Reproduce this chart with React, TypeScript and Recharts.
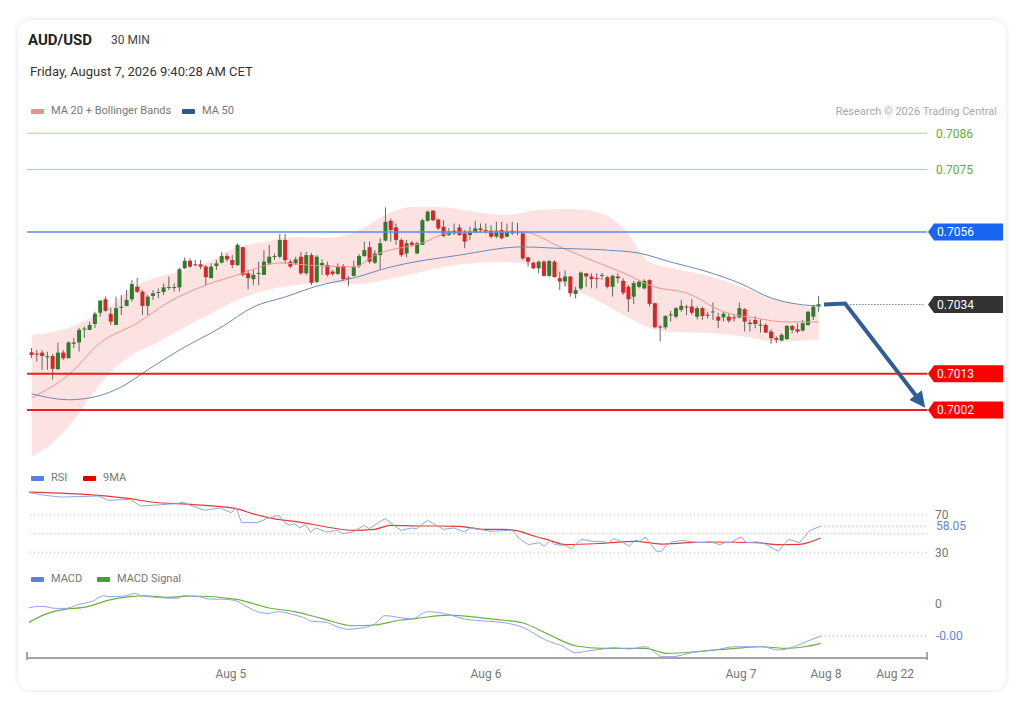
import React from "react";
import {
  ComposedChart,
  Bar,
  Line,
  Area,
  XAxis,
  YAxis,
  ReferenceLine,
} from "recharts";

const FONT = "Roboto, 'Liberation Sans', Arial, sans-serif";

// 30 min candles, oldest first
const openP = [
  0.70195, 0.70191, 0.70194, 0.70182, 0.70184, 0.70144, 0.70194, 0.70177, 0.70221, 0.70225,
  0.70266, 0.70263, 0.70281, 0.70315, 0.70356, 0.70312, 0.70278, 0.70331, 0.70336, 0.70356,
  0.70394, 0.70379, 0.70336, 0.70366, 0.70376, 0.70378, 0.70391, 0.70393, 0.70392, 0.7045,
  0.70473, 0.70462, 0.70462, 0.70455, 0.7042, 0.70457, 0.70467, 0.70487, 0.70475, 0.7046,
  0.70514, 0.70435, 0.70417, 0.70434, 0.7043, 0.70465, 0.70485, 0.70485, 0.70536, 0.7047,
  0.70465, 0.70485, 0.70435, 0.7049, 0.70409, 0.7046, 0.7046, 0.7044, 0.70433, 0.70457,
  0.70421, 0.70427, 0.70457, 0.70487, 0.70514, 0.70467, 0.7049, 0.70534, 0.70594, 0.70574,
  0.70536, 0.70495, 0.70528, 0.70495, 0.70521, 0.70594, 0.70625, 0.70598, 0.70576, 0.70551,
  0.70556, 0.70574, 0.70556, 0.70551, 0.70558, 0.70571, 0.70566, 0.70564, 0.70546, 0.70566,
  0.70546, 0.70564, 0.70561, 0.70556, 0.70483, 0.70467, 0.7045, 0.7047, 0.70427, 0.7047,
  0.7042, 0.7041, 0.70425, 0.70372, 0.70389, 0.70435, 0.70425, 0.7042, 0.7043, 0.70423,
  0.70394, 0.70425, 0.70412, 0.70394, 0.70364, 0.70394, 0.70389, 0.70414, 0.70344, 0.70273,
  0.70271, 0.70308, 0.70303, 0.70324, 0.70334, 0.70334, 0.70303, 0.70329, 0.70308, 0.70318,
  0.70303, 0.70301, 0.70303, 0.70301, 0.70301, 0.70326, 0.70285, 0.70293, 0.70279, 0.70278,
  0.70258, 0.70238, 0.70231, 0.70235, 0.70275, 0.70265, 0.70261, 0.70278, 0.70303, 0.70334,
];
const highP = [
  0.70208, 0.70202, 0.70202, 0.70197, 0.7019, 0.70224, 0.70202, 0.70228, 0.70239, 0.70269,
  0.70273, 0.70288, 0.70318, 0.70354, 0.70364, 0.7033, 0.70364, 0.70369, 0.70384, 0.70414,
  0.70421, 0.70384, 0.70369, 0.70384, 0.70389, 0.70404, 0.70425, 0.70404, 0.70451, 0.70483,
  0.7048, 0.70475, 0.70475, 0.7046, 0.70465, 0.70475, 0.705, 0.70495, 0.7049, 0.70526,
  0.70515, 0.70445, 0.70445, 0.7047, 0.70505, 0.70521, 0.70495, 0.70554, 0.70554, 0.70477,
  0.70485, 0.705, 0.705, 0.70496, 0.7049, 0.70478, 0.7047, 0.70445, 0.70465, 0.70463,
  0.70427, 0.70473, 0.70493, 0.70531, 0.70531, 0.70505, 0.70541, 0.70635, 0.70601, 0.70586,
  0.70541, 0.70536, 0.70533, 0.70531, 0.70601, 0.70625, 0.70626, 0.70601, 0.70596, 0.70572,
  0.70586, 0.70584, 0.70566, 0.70576, 0.70594, 0.70586, 0.70586, 0.70581, 0.70591, 0.70591,
  0.70586, 0.70591, 0.70588, 0.70558, 0.70485, 0.7047, 0.70473, 0.70475, 0.70475, 0.70475,
  0.7044, 0.70443, 0.70427, 0.70394, 0.7044, 0.70435, 0.70435, 0.70435, 0.70436, 0.70427,
  0.7043, 0.70435, 0.7042, 0.70399, 0.70412, 0.70414, 0.70417, 0.70417, 0.70346, 0.70278,
  0.70308, 0.70321, 0.70332, 0.70354, 0.70339, 0.70356, 0.70334, 0.70334, 0.70318, 0.70346,
  0.70315, 0.70318, 0.70313, 0.70308, 0.70346, 0.70329, 0.70295, 0.70305, 0.70295, 0.70283,
  0.70265, 0.70243, 0.70253, 0.70278, 0.70278, 0.70283, 0.70293, 0.70321, 0.70339, 0.70366,
];
const lowP = [
  0.70178, 0.70167, 0.70142, 0.70142, 0.70112, 0.70142, 0.70172, 0.70177, 0.70208, 0.70197,
  0.70239, 0.70263, 0.70269, 0.70303, 0.70318, 0.70278, 0.70278, 0.70308, 0.70334, 0.70349,
  0.70375, 0.70308, 0.70308, 0.70354, 0.70359, 0.70369, 0.70384, 0.70379, 0.70379, 0.70447,
  0.7045, 0.70455, 0.70447, 0.70399, 0.7042, 0.70445, 0.70465, 0.7047, 0.7045, 0.70457,
  0.70425, 0.70386, 0.70399, 0.70399, 0.7043, 0.7046, 0.70475, 0.7048, 0.70465, 0.7045,
  0.7046, 0.7043, 0.7043, 0.70399, 0.70405, 0.7043, 0.70425, 0.70427, 0.7043, 0.70412,
  0.70396, 0.70425, 0.70451, 0.70485, 0.70465, 0.70463, 0.70445, 0.70531, 0.70531, 0.70521,
  0.70485, 0.70483, 0.70515, 0.70493, 0.70521, 0.70591, 0.70593, 0.70566, 0.70544, 0.70548,
  0.70551, 0.70548, 0.70511, 0.70536, 0.70556, 0.70561, 0.70556, 0.70541, 0.70541, 0.70538,
  0.70544, 0.70551, 0.70551, 0.70475, 0.70455, 0.70447, 0.70435, 0.70425, 0.70423, 0.70423,
  0.70384, 0.70394, 0.70364, 0.70359, 0.70384, 0.70394, 0.70389, 0.70389, 0.70415, 0.70389,
  0.70364, 0.70405, 0.70369, 0.70318, 0.70342, 0.70389, 0.70386, 0.70334, 0.70268, 0.70228,
  0.70265, 0.70288, 0.70298, 0.70318, 0.70308, 0.70308, 0.70295, 0.70293, 0.70298, 0.70293,
  0.70268, 0.70288, 0.70285, 0.70288, 0.70298, 0.70258, 0.70258, 0.70268, 0.70255, 0.70253,
  0.70221, 0.70223, 0.70228, 0.70233, 0.70253, 0.70253, 0.70258, 0.70275, 0.70293, 0.70318,
];
const closeP = [
  0.70187, 0.7019, 0.70184, 0.70183, 0.70145, 0.70194, 0.70177, 0.70225, 0.70225, 0.70263,
  0.70267, 0.70278, 0.70312, 0.70352, 0.70321, 0.70288, 0.70329, 0.70333, 0.70354, 0.70402,
  0.70379, 0.70336, 0.70364, 0.70374, 0.70378, 0.70392, 0.70393, 0.70391, 0.70447, 0.70473,
  0.70455, 0.70461, 0.70455, 0.70423, 0.70455, 0.70465, 0.70487, 0.70477, 0.7046, 0.70521,
  0.7043, 0.7042, 0.7043, 0.70436, 0.7047, 0.70485, 0.70487, 0.70536, 0.70475, 0.70455,
  0.70477, 0.70435, 0.7049, 0.70406, 0.70485, 0.70466, 0.7043, 0.70433, 0.70455, 0.70417,
  0.70419, 0.70455, 0.70487, 0.70505, 0.7047, 0.70495, 0.70526, 0.70591, 0.70566, 0.70536,
  0.7049, 0.70526, 0.70521, 0.70526, 0.70596, 0.70622, 0.70596, 0.70571, 0.70548, 0.70561,
  0.70564, 0.70551, 0.70531, 0.70561, 0.70571, 0.70566, 0.70564, 0.70546, 0.70564, 0.70541,
  0.70561, 0.70556, 0.7056, 0.7048, 0.7047, 0.7045, 0.7047, 0.70427, 0.70472, 0.70423,
  0.7041, 0.70425, 0.70374, 0.70384, 0.70437, 0.70425, 0.70417, 0.70419, 0.70429, 0.70394,
  0.70427, 0.7042, 0.70376, 0.70356, 0.70405, 0.70409, 0.70412, 0.70342, 0.70271, 0.70271,
  0.70305, 0.7031, 0.70329, 0.70336, 0.70333, 0.70315, 0.70329, 0.70305, 0.70309, 0.70319,
  0.70291, 0.70312, 0.70291, 0.703, 0.70329, 0.70288, 0.70281, 0.70281, 0.70278, 0.70255,
  0.70238, 0.70233, 0.70248, 0.70275, 0.70263, 0.70258, 0.70283, 0.70318, 0.70334, 0.70341,
];

// Bollinger bands (20) read at these candle indices
const bandAt = [0, 4, 8, 11, 15, 19, 24, 28, 33, 39, 44, 50, 56, 62, 67, 72, 77, 84, 90, 96, 102, 107, 112, 117, 121, 128, 135, 141, 149];
const bandUpper = [
  0.70249, 0.70257, 0.70275, 0.70299, 0.70336, 0.7039, 0.70424, 0.70439, 0.70466, 0.70515,
  0.7053, 0.70545, 0.70542, 0.70566, 0.70612, 0.70636, 0.70636, 0.70621, 0.70612, 0.70627,
  0.7063, 0.70621, 0.70572, 0.70469, 0.70451, 0.70427, 0.7039, 0.70354, 0.7033,
];
const bandLower = [
  0.69878, 0.69921, 0.6999, 0.70057, 0.70136, 0.70187, 0.70227, 0.70263, 0.70305, 0.70354,
  0.70381, 0.70399, 0.70405, 0.70402, 0.70415, 0.70433, 0.70451, 0.70466, 0.70469, 0.70451,
  0.7039, 0.70354, 0.70308, 0.70269, 0.70257, 0.70254, 0.70242, 0.70227, 0.70233,
];

const ma20At = [0, 7, 13, 20, 26, 33, 39, 47, 52, 61, 65, 74, 79, 87, 93, 100, 105, 112, 118, 124, 131, 137, 143, 149];
const ma20Val = [
  0.70057, 0.70127, 0.70224, 0.70284, 0.70348, 0.70399, 0.7043, 0.70466, 0.7046, 0.70454,
  0.7049, 0.70527, 0.70557, 0.7056, 0.7056, 0.70515, 0.70481, 0.70436, 0.70393, 0.70375,
  0.70318, 0.70299, 0.70287, 0.70287,
];
const ma50At = [0, 7, 12, 17, 22, 28, 36, 42, 48, 54, 61, 68, 81, 93, 99, 109, 115, 121, 128, 134, 140, 146, 149];
const ma50Val = [
  0.70069, 0.70051, 0.7006, 0.7009, 0.70142, 0.70202, 0.70272, 0.70333, 0.70363, 0.70396,
  0.70421, 0.70454, 0.7049, 0.70515, 0.70511, 0.70505, 0.70496, 0.70469, 0.70439, 0.70405,
  0.7036, 0.70339, 0.70336,
];

// projected path (arrow)
const forecastAt = [150, 154, 168];
const forecastVal = [0.7034, 0.70343, 0.70051];

const lastPrice = 0.7034;
const resistances = [0.7086, 0.7075];
const pivot = 0.7056;
const supports = [0.7013, 0.7002];

const rsiAt = [
  0, 3, 6, 13, 15, 19, 21, 28, 29, 30, 33, 36, 38, 39, 40, 43, 45, 47, 48, 49,
  50, 51, 52, 53, 54, 56, 58, 59, 61, 63, 64, 67, 70, 72, 73, 75, 78, 80, 82, 83,
  87, 89, 90, 91, 92, 93, 94, 96, 97, 98, 99, 101, 102, 104, 106, 108, 109, 110, 111, 113,
  114, 115, 116, 118, 119, 120, 121, 123, 125, 127, 128, 130, 131, 132, 134, 135, 137, 138, 139, 141,
  142, 143, 145, 147, 149,
];
const rsiVal = [
  94.0, 91.1, 89.2, 90.3, 85.7, 86.8, 79.6, 82.2, 83.9, 81.1, 75.0, 77.5, 72.5, 77.5, 61.8, 61.8, 66.7, 69.6, 62.4, 58.9,
  60.7, 56.0, 59.7, 51.7, 56.0, 51.7, 53.5, 50.0, 51.7, 58.9, 55.4, 66.1, 53.5, 56.0, 55.4, 64.3, 54.6, 56.0, 51.7, 56.0,
  52.5, 53.0, 53.5, 53.5, 46.4, 41.7, 38.2, 40.3, 36.4, 42.8, 38.2, 37.5, 33.9, 43.9, 41.7, 41.7, 39.3, 44.6, 42.8, 36.4,
  42.8, 41.7, 46.4, 31.3, 31.0, 37.5, 41.0, 42.8, 41.0, 40.3, 41.7, 38.2, 40.3, 40.3, 46.4, 40.3, 41.0, 40.3, 37.5, 31.0,
  37.5, 43.9, 40.3, 53.5, 58.05,
];
const rsiMaAt = [0, 13, 19, 23, 31, 39, 42, 46, 51, 56, 61, 65, 68, 74, 77, 81, 86, 89, 92, 95, 98, 101, 108, 114, 119, 124, 129, 137, 141, 145, 147, 149];
const rsiMaVal = [
  94.6, 91.1, 87.5, 83.9, 81.1, 76.8, 71.4, 66.1, 62.4, 57.1, 53.5, 54.6, 58.9, 58.2, 58.2, 57.8,
  54.6, 54.6, 53.0, 47.4, 42.8, 38.2, 39.6, 41.7, 38.8, 40.3, 41.0, 40.3, 38.2, 38.5, 41.0, 45.3,
];

const macdAt = [
  0, 2, 3, 5, 7, 9, 12, 14, 15, 18, 20, 21, 24, 28, 29, 32, 34, 37, 39, 41,
  43, 45, 47, 50, 52, 53, 56, 58, 60, 62, 65, 67, 70, 72, 75, 78, 82, 86, 89, 91,
  92, 94, 96, 98, 100, 103, 105, 108, 110, 113, 116, 118, 119, 121, 125, 129, 133, 138, 141, 144,
  146, 149,
];
const macdVal = [
  -0.31e-4, -0.19e-4, -0.22e-4, -0.36e-4, -0.36e-4, -0.08e-4, 0.25e-4, 0.69e-4, 0.61e-4, 0.67e-4,
  0.89e-4, 0.69e-4, 0.56e-4, 0.47e-4, 0.69e-4, 0.61e-4, 0.42e-4, 0.39e-4, 0.25e-4, -0.22e-4,
  -0.64e-4, -0.78e-4, -0.64e-4, -0.92e-4, -1.19e-4, -1.42e-4, -1.53e-4, -1.89e-4, -2.11e-4, -2.03e-4,
  -1.69e-4, -0.97e-4, -1.14e-4, -1.25e-4, -0.64e-4, -0.78e-4, -1.25e-4, -1.42e-4, -1.53e-4, -1.69e-4,
  -1.8e-4, -2.17e-4, -2.72e-4, -3.14e-4, -3.42e-4, -4.06e-4, -3.92e-4, -3.75e-4, -3.64e-4, -3.75e-4,
  -3.56e-4, -4.11e-4, -4.39e-4, -4.39e-4, -4.03e-4, -3.83e-4, -3.56e-4, -3.56e-4, -3.83e-4, -3.56e-4,
  -3.19e-4, -2.67e-4,
];
const signalAt = [0, 3, 6, 11, 15, 19, 22, 26, 31, 39, 45, 50, 55, 61, 65, 70, 73, 79, 86, 89, 93, 98, 103, 108, 113, 116, 120, 127, 133, 138, 142, 146, 149];
const signalVal = [
  -1.53e-4, -0.86e-4, -0.5e-4, -0.22e-4, 0.33e-4, 0.61e-4, 0.69e-4, 0.56e-4, 0.67e-4, 0.39e-4,
  -0.31e-4, -0.64e-4, -1.19e-4, -1.81e-4, -1.75e-4, -1.33e-4, -1.19e-4, -0.92e-4, -1.19e-4, -1.33e-4,
  -1.58e-4, -2.58e-4, -3.5e-4, -3.69e-4, -3.69e-4, -3.69e-4, -4.11e-4, -3.92e-4, -3.69e-4, -3.56e-4,
  -3.69e-4, -3.56e-4, -3.28e-4,
];

const SLOTS = 170; // candles + empty room on the right
const tickAt = [38, 86, 134, 150, 163];
const tickLabels = ["Aug 5", "Aug 6", "Aug 7", "Aug 8", "Aug 22"];

const rows: any[] = Array.from({ length: SLOTS }, (_, k) => ({ k }));
openP.forEach((o, k) =>
  Object.assign(rows[k], { o, h: highP[k], l: lowP[k], c: closeP[k], hl: [lowP[k], highP[k]] })
);
bandAt.forEach((k, i) => (rows[k].band = [bandLower[i], bandUpper[i]]));
const put = (key: string, at: number[], vals: number[]) =>
  at.forEach((k, i) => (rows[k][key] = vals[i]));
put("ma20", ma20At, ma20Val);
put("ma50", ma50At, ma50Val);
put("fc", forecastAt, forecastVal);
put("rsi", rsiAt, rsiVal);
put("rsiMa", rsiMaAt, rsiMaVal);
put("macd", macdAt, macdVal);
put("sig", signalAt, signalVal);

const lastRsi = rsiVal[rsiVal.length - 1];
const lastMacd = macdVal[macdVal.length - 1];
const lastK = openP.length - 1;

const Candle = (props: any) => {
  const { x, y, width, height, payload } = props;
  if (!payload || payload.o == null) return null;
  const top = Math.min(y, y + height);
  const bot = Math.max(y, y + height);
  const span = payload.h - payload.l || 1e-9;
  const py = (v: number) => top + ((payload.h - v) / span) * (bot - top);
  const up = payload.c >= payload.o;
  const cx = x + width / 2;
  const b1 = py(Math.max(payload.o, payload.c));
  const b2 = py(Math.min(payload.o, payload.c));
  return (
    <g>
      <line x1={cx} x2={cx} y1={top} y2={bot} stroke="#666" strokeWidth={1} />
      <rect
        x={cx - 2}
        y={b1}
        width={4}
        height={Math.max(1, b2 - b1)}
        fill={up ? "#2f7d2a" : "#d62626"}
      />
    </g>
  );
};

const Tag = ({ viewBox, text, fill }: any) => {
  if (!viewBox) return null;
  const left = viewBox.x + viewBox.width + 1;
  const y = viewBox.y;
  return (
    <g>
      <polygon
        points={`${left},${y} ${left + 6},${y - 8.5} ${left + 75},${y - 8.5} ${left + 75},${y + 8.5} ${left + 6},${y + 8.5}`}
        fill={fill}
      />
      <text x={left + 9} y={y} dy="0.36em" fill="#fff" fontSize={12}>
        {text}
      </text>
    </g>
  );
};

const PlainTag = ({ viewBox, text, color, bg }: any) => {
  if (!viewBox) return null;
  const left = viewBox.x + viewBox.width + 9;
  const y = viewBox.y;
  return (
    <g>
      {bg && <rect x={left - 1} y={y - 7} width={40} height={13} fill={bg} />}
      <text x={left} y={y} dy="0.36em" fill={color} fontSize={12}>
        {text}
      </text>
    </g>
  );
};

const Txt = ({ x, y, size, color, weight, children }: any) => (
  <div
    style={{
      position: "absolute",
      left: x,
      top: y - size * 0.6,
      height: size * 1.2,
      lineHeight: `${size * 1.2}px`,
      fontSize: size,
      color,
      fontWeight: weight || 400,
      whiteSpace: "nowrap",
    }}
  >
    {children}
  </div>
);

const Swatch = ({ x, y, color }: any) => (
  <div
    style={{
      position: "absolute",
      left: x,
      top: y - 2,
      width: 13,
      height: 5,
      borderRadius: 1,
      background: color,
    }}
  />
);

const xHidden = <XAxis dataKey="k" hide padding={{ left: 2, right: 0 }} />;

export default function App() {
  return (
    <div
      style={{
        position: "absolute",
        left: 0,
        top: 0,
        width: 1030,
        height: 707,
        background: "#fff",
        fontFamily: FONT,
      }}
    >
      <div
        style={{
          position: "absolute",
          left: 18,
          top: 20,
          width: 988,
          height: 670,
          borderRadius: 12,
          boxShadow: "0 0 5px rgba(0,0,0,0.13)",
        }}
      />
      <Txt x={28} y={40} size={15} color="#222" weight={700}>
        AUD/USD
      </Txt>
      <Txt x={111} y={40} size={12} color="#444">
        30 MIN
      </Txt>
      <Txt x={30} y={72} size={13} color="#333">
        Friday, August 7, 2026 9:40:28 AM CET
      </Txt>

      <Swatch x={31} y={111} color="#f28b8b" />
      <Txt x={51} y={111} size={11} color="#777">
        MA 20 + Bollinger Bands
      </Txt>
      <Swatch x={182} y={111} color="#2d5792" />
      <Txt x={202} y={111} size={11} color="#777">
        MA 50
      </Txt>
      <div
        style={{
          position: "absolute",
          right: 1030 - 997,
          top: 105,
          fontSize: 11,
          lineHeight: "13px",
          color: "#a8a8a8",
          whiteSpace: "nowrap",
        }}
      >
        Research © 2026 Trading Central
      </div>

      {/* price pane */}
      <div style={{ position: "absolute", left: 0, top: 120 }}>
        <ComposedChart
          width={1010}
          height={346}
          data={rows}
          margin={{ top: 0, right: 83, bottom: 0, left: 27 }}
        >
          <defs>
            <marker
              id="arrowHead"
              markerWidth="4"
              markerHeight="4"
              refX="1.5"
              refY="2"
              orient="auto"
              markerUnits="strokeWidth"
            >
              <path d="M0,0 L4,2 L0,4 z" fill="#2f5d98" />
            </marker>
          </defs>
          {xHidden}
          <YAxis hide domain={[0.6985, 0.709]} allowDataOverflow />
          <Area
            dataKey="band"
            type="monotone"
            fill="#fde2e2"
            fillOpacity={1}
            stroke="none"
            connectNulls
            isAnimationActive={false}
          />
          <Line
            dataKey="ma20"
            type="monotone"
            stroke="#f29393"
            strokeWidth={1}
            dot={false}
            connectNulls
            isAnimationActive={false}
          />
          <Line
            dataKey="ma50"
            type="monotone"
            stroke="#6b89b6"
            strokeWidth={1}
            dot={false}
            connectNulls
            isAnimationActive={false}
          />
          {resistances.map((v) => (
            <ReferenceLine
              key={v}
              y={v}
              stroke="#a9d487"
              strokeWidth={1}
              label={<PlainTag text={v.toFixed(4)} color="#6aa834" />}
            />
          ))}
          <ReferenceLine
            y={pivot}
            stroke="#5b8def"
            strokeWidth={1.4}
            label={<Tag text={pivot.toFixed(4)} fill="#1765f2" />}
          />
          {supports.map((v) => (
            <ReferenceLine
              key={v}
              y={v}
              stroke="#f21c1c"
              strokeWidth={2}
              label={<Tag text={v.toFixed(4)} fill="#ff0000" />}
            />
          ))}
          <Bar
            dataKey="hl"
            shape={<Candle />}
            isAnimationActive={false}
          />
          <ReferenceLine
            segment={[
              { x: 155, y: lastPrice },
              { x: SLOTS - 1, y: lastPrice },
            ]}
            stroke="#444"
            strokeDasharray="1 2"
          />
          <ReferenceLine
            y={lastPrice}
            stroke="#000"
            strokeOpacity={0}
            label={<Tag text={lastPrice.toFixed(4)} fill="#333" />}
          />
          <Line
            dataKey="fc"
            type="linear"
            stroke="#2f5d98"
            strokeWidth={4}
            dot={false}
            connectNulls
            markerEnd="url(#arrowHead)"
            isAnimationActive={false}
          />
        </ComposedChart>
      </div>

      {/* RSI pane */}
      <Swatch x={31} y={478} color="#5b7fde" />
      <Txt x={51} y={478} size={11} color="#777">
        RSI
      </Txt>
      <Swatch x={83} y={478} color="#e00000" />
      <Txt x={103} y={478} size={11} color="#777">
        9MA
      </Txt>
      <div style={{ position: "absolute", left: 0, top: 487 }}>
        <ComposedChart
          width={1010}
          height={74.6}
          data={rows}
          margin={{ top: 0, right: 0, bottom: 0, left: 27 }}
        >
          {xHidden}
          <YAxis
            orientation="right"
            width={83}
            domain={[20, 100]}
            ticks={[30, 50, 70]}
            axisLine={false}
            tickLine={false}
            tick={{ fontSize: 12, fill: "#777" }}
            allowDataOverflow
          />
          {[70, 50, 30].map((v) => (
            <ReferenceLine key={v} y={v} stroke="#bbb" strokeDasharray="1 3" />
          ))}
          <Line
            dataKey="rsiMa"
            type="monotone"
            stroke="#e53935"
            strokeWidth={1.2}
            dot={false}
            connectNulls
            isAnimationActive={false}
          />
          <Line
            dataKey="rsi"
            type="linear"
            stroke="#8aa6e8"
            strokeWidth={1}
            dot={false}
            connectNulls
            isAnimationActive={false}
          />
          <ReferenceLine
            segment={[
              { x: lastK, y: lastRsi },
              { x: SLOTS - 1, y: lastRsi },
            ]}
            stroke="#6f90e4"
            strokeDasharray="1 3"
          />
          <ReferenceLine
            y={lastRsi}
            stroke="#000"
            strokeOpacity={0}
            label={<PlainTag text={lastRsi.toFixed(2)} color="#5f86e2" bg="#fff" />}
          />
        </ComposedChart>
      </div>

      {/* MACD pane */}
      <Swatch x={31} y={579} color="#5b7fde" />
      <Txt x={51} y={579} size={11} color="#777">
        MACD
      </Txt>
      <Swatch x={97} y={579} color="#4c9e2a" />
      <Txt x={117} y={579} size={11} color="#777">
        MACD Signal
      </Txt>
      <div style={{ position: "absolute", left: 0, top: 590 }}>
        <ComposedChart
          width={1010}
          height={98}
          data={rows}
          margin={{ top: 0, right: 0, bottom: 0, left: 27 }}
        >
          <XAxis
            dataKey="k"
            padding={{ left: 2, right: 0 }}
            height={30}
            ticks={tickAt}
            interval={0}
            tickMargin={5}
            tickFormatter={(v: number) => tickLabels[tickAt.indexOf(v)]}
            tickLine={false}
            axisLine={{ stroke: "#a5a5a5", strokeWidth: 2 }}
            tick={{ fontSize: 12, fill: "#777" }}
          />
          <YAxis
            orientation="right"
            width={83}
            domain={[-4.5e-4, 1.17e-4]}
            ticks={[0]}
            tickFormatter={(v: number) => (v === 0 ? "0" : v.toFixed(2))}
            axisLine={false}
            tickLine={false}
            tick={{ fontSize: 12, fill: "#777" }}
            allowDataOverflow
          />
          <Line
            dataKey="sig"
            type="monotone"
            stroke="#6cb043"
            strokeWidth={1.2}
            dot={false}
            connectNulls
            isAnimationActive={false}
          />
          <Line
            dataKey="macd"
            type="monotone"
            stroke="#8aa6e8"
            strokeWidth={1}
            dot={false}
            connectNulls
            isAnimationActive={false}
          />
          <ReferenceLine
            segment={[
              { x: lastK, y: lastMacd },
              { x: SLOTS - 1, y: lastMacd },
            ]}
            stroke="#6f90e4"
            strokeDasharray="1 3"
          />
          <ReferenceLine
            y={lastMacd}
            stroke="#000"
            strokeOpacity={0}
            label={<PlainTag text={lastMacd.toFixed(2)} color="#5f86e2" bg="#fff" />}
          />
        </ComposedChart>
      </div>
      <div style={{ position: "absolute", left: 26, top: 652, width: 2, height: 8, background: "#a5a5a5" }} />
      <div style={{ position: "absolute", left: 926, top: 652, width: 2, height: 8, background: "#a5a5a5" }} />
    </div>
  );
}
